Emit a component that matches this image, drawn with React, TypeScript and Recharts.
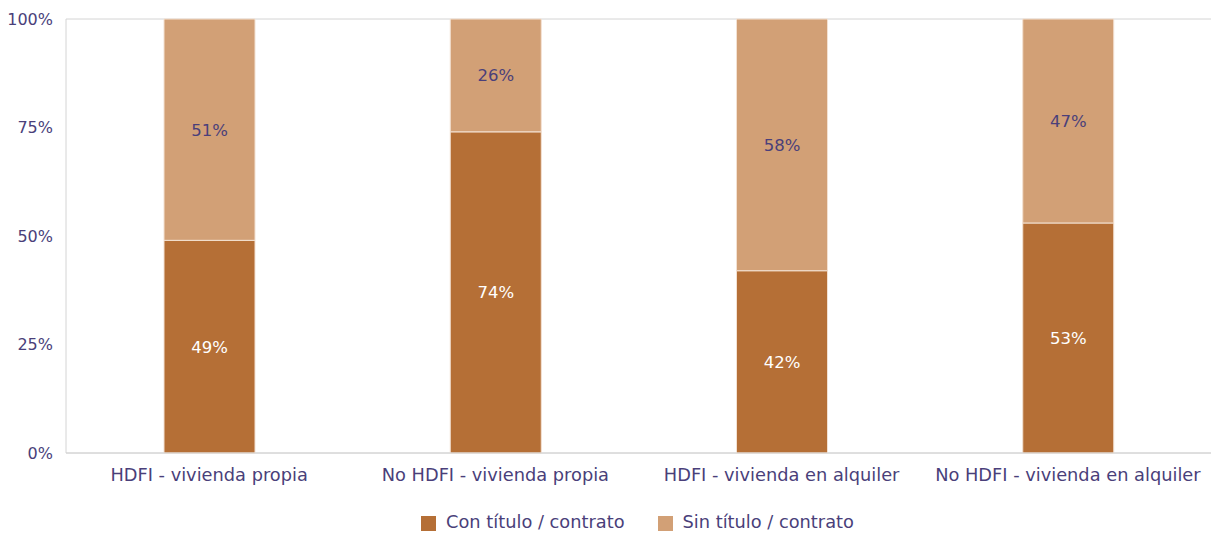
import React from "react";
import { BarChart, Bar, XAxis, YAxis, CartesianGrid, Legend, LabelList } from "recharts";

const categories = [
  "HDFI - vivienda propia",
  "No HDFI - vivienda propia",
  "HDFI - vivienda en alquiler",
  "No HDFI - vivienda en alquiler",
];
const conTitulo = [49, 74, 42, 53];
const sinTitulo = [51, 26, 58, 47];
const yTicks = [0, 25, 50, 75, 100];

const data = categories.map((c, i) => ({ name: c, con: conTitulo[i], sin: sinTitulo[i] }));

const FONT = "'DejaVu Sans', sans-serif";
const FS_TEXT = 17.8;
const FS_NUM = 16.5;
const FS_TICK = 16;
const TEXT = "#4a3f7a";
const GRID = "#d4d4d4";

export default function App() {
  return (
    <div style={{ position: "absolute", left: 0, top: 0, fontFamily: FONT }}>
      <BarChart
        width={1227}
        height={534}
        data={data}
        margin={{ top: 19, right: 16, bottom: 2, left: 0 }}
        barCategoryGap={0}
      >
        <CartesianGrid horizontal={true} vertical={false} stroke={GRID} strokeWidth={1} />
        <XAxis
          dataKey="name"
          axisLine={{ stroke: GRID }}
          tickLine={false}
          tick={{ fill: TEXT, fontSize: FS_TEXT, fontFamily: FONT }}
          tickMargin={9}
          height={58}
          interval={0}
        />
        <YAxis
          yAxisId="left"
          domain={[0, 100]}
          ticks={yTicks}
          tickFormatter={(v: number) => `${v}%`}
          axisLine={{ stroke: GRID }}
          tickLine={false}
          tickSize={0}
          tickMargin={13}
          width={66}
          tick={{ fill: TEXT, fontSize: FS_TICK, fontFamily: FONT }}
        />
        <YAxis
          yAxisId="right"
          orientation="right"
          domain={[0, 100]}
          axisLine={{ stroke: GRID }}
          tick={false}
          tickLine={false}
          width={0}
        />
        <Legend
          verticalAlign="bottom"
          align="center"
          iconType="square"
          iconSize={15}
          wrapperStyle={{ fontSize: FS_TEXT, fontFamily: FONT, paddingTop: 0, left: 66, width: 1145, paddingLeft: 8, boxSizing: "border-box" }}
          formatter={(value: string, _e: unknown, index: number) => (
            <span style={{ color: TEXT, marginLeft: 6, marginRight: index === 0 ? 23 : 0 }}>{value}</span>
          )}
        />
        <Bar
          yAxisId="left"
          dataKey="con"
          name="Con título / contrato"
          stackId="a"
          fill="#b56f36"
          stroke="#f3e1d2"
          strokeWidth={1}
          barSize={91}
          isAnimationActive={false}
        >
          <LabelList
            dataKey="con"
            position="center"
            formatter={(v: number) => `${v}%`}
            style={{ fill: "#ffffff", fontSize: FS_NUM, fontFamily: FONT }}
          />
        </Bar>
        <Bar
          yAxisId="left"
          dataKey="sin"
          name="Sin título / contrato"
          stackId="a"
          fill="#d2a076"
          stroke="#f3e1d2"
          strokeWidth={1}
          barSize={91}
          isAnimationActive={false}
        >
          <LabelList
            dataKey="sin"
            position="center"
            formatter={(v: number) => `${v}%`}
            style={{ fill: TEXT, fontSize: FS_NUM, fontFamily: FONT }}
          />
        </Bar>
      </BarChart>
    </div>
  );
}
